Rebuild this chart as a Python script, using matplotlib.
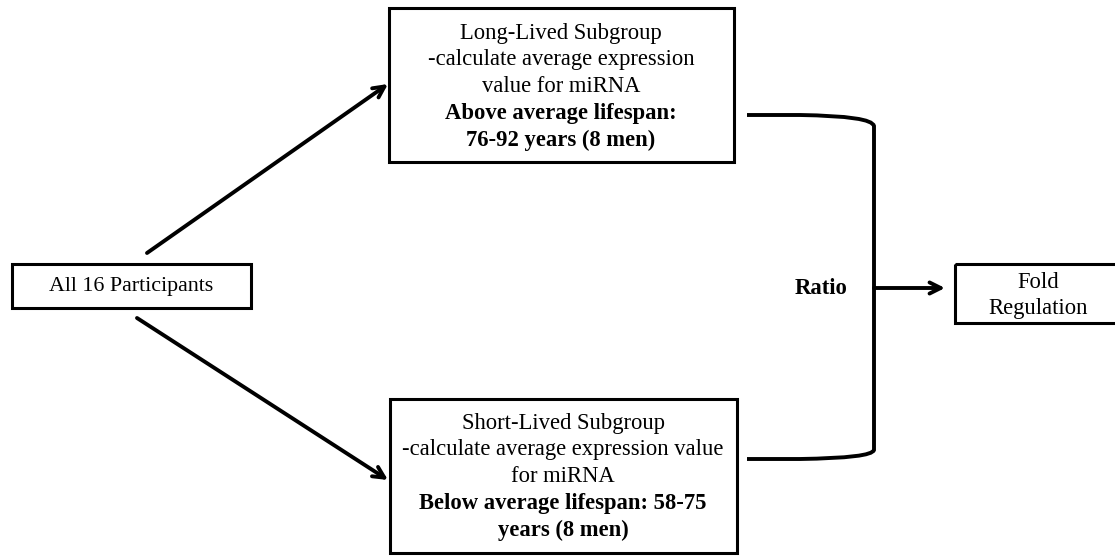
import matplotlib
matplotlib.use("Agg")
import matplotlib.pyplot as plt
from matplotlib.patches import Rectangle, PathPatch
from matplotlib.path import Path

# ---- content ----
left_label = "All 16 Participants"
top_regular = ["Long-Lived Subgroup", "-calculate average expression", "value for miRNA"]
top_bold = ["Above average lifespan:", "76-92 years (8 men)"]
bottom_regular = ["Short-Lived Subgroup", "-calculate average expression value", "for miRNA"]
bottom_bold = ["Below average lifespan: 58-75", "years (8 men)"]
ratio_label = "Ratio"
fold_label = ["Fold", "Regulation"]

FONT = "Liberation Serif"
FS = 16.3

fig = plt.figure(figsize=(11.15, 5.56), dpi=100)
ax = fig.add_axes([0, 0, 1, 1])
ax.set_xlim(0, 1115)
ax.set_ylim(556, 0)
ax.axis("off")

LW = 2.2

def box(x0, y0, x1, y1):
    ax.add_patch(Rectangle((x0, y0), x1 - x0, y1 - y0, fill=False, ec="black", lw=LW))

# boxes
box(12, 264, 251, 308)
box(389, 8, 734, 162)
box(390, 399, 737, 553)
box(955, 264, 1118, 323)

# texts
ax.text(131, 287, left_label, ha="center", va="center", family=FONT, fontsize=FS - 0.5)

line_gap = 26.8
for i, s in enumerate(top_regular + top_bold):
    ax.text(561, 33 + i * line_gap, s, ha="center", va="center", family=FONT, fontsize=FS,
            fontweight="bold" if i >= len(top_regular) else "normal")
for i, s in enumerate(bottom_regular + bottom_bold):
    ax.text(563, 423 + i * line_gap, s, ha="center", va="center", family=FONT, fontsize=FS,
            fontweight="bold" if i >= len(bottom_regular) else "normal")

ax.text(821, 288, ratio_label, ha="center", va="center", family=FONT, fontsize=FS, fontweight="bold")
for i, s in enumerate(fold_label):
    ax.text(1038, 282 + i * line_gap, s, ha="center", va="center", family=FONT, fontsize=FS)

# arrows
aprops = dict(arrowstyle="->,head_length=0.8,head_width=0.4", lw=LW + 0.6, color="black",
              shrinkA=0, shrinkB=0)
ax.annotate("", xy=(388, 84), xytext=(147, 253), arrowprops=aprops)
ax.annotate("", xy=(388, 480), xytext=(137, 318), arrowprops=aprops)
ax.annotate("", xy=(945, 288), xytext=(874, 288), arrowprops=aprops)

# bracket
verts = [(747, 115), (800, 115), (872, 116), (874, 126),
         (874, 450), (872, 458), (800, 459), (747, 459)]
codes = [Path.MOVETO, Path.LINETO, Path.CURVE3, Path.CURVE3,
         Path.LINETO, Path.CURVE3, Path.CURVE3, Path.LINETO]
ax.add_patch(PathPatch(Path(verts, codes), fill=False, ec="black", lw=LW + 0.6))

fig.savefig("out.png", dpi=100)
